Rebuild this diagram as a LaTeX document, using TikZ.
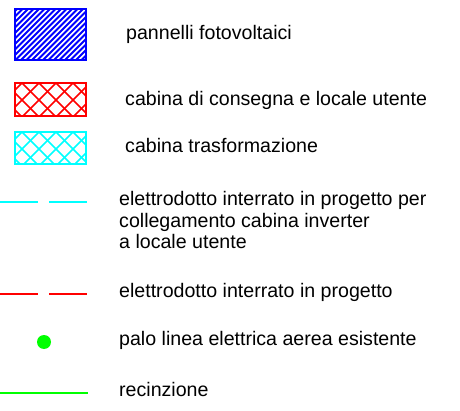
\documentclass[tikz,border=0pt]{standalone}
\usepackage{fontspec}
\setmainfont{Liberation Sans}
\usetikzlibrary{positioning}
\definecolor{pvblue}{RGB}{0,0,255}
\definecolor{cabred}{RGB}{255,0,0}
\definecolor{cabcyan}{RGB}{0,255,255}
\definecolor{fencegreen}{RGB}{0,255,0}
\tikzset{
	legendbox/.style={draw=#1, line width=1.6pt, minimum width=71pt, inner sep=0pt},
	stripes/.style={path picture={
		\foreach \k in {-60,-54.5,...,80}
			\draw[#1, line width=1.8pt] ([xshift=\k pt]path picture bounding box.south west) -- ++(60pt,60pt);
	}},
	diamonds/.style={path picture={
		\foreach \k in {-44,-27,...,130} {
			\draw[#1, line width=1.5pt] ([xshift=\k pt]path picture bounding box.north west) ++(-40pt,40pt) -- ++(80pt,-80pt);
			\draw[#1, line width=1.5pt] ([xshift=\k pt]path picture bounding box.north west) ++(40pt,40pt) -- ++(-80pt,-80pt);
		}
	}},
	cableline/.style={draw=#1, line width=1.3pt, dash pattern=on 38pt off 11pt},
	legendtext/.style={anchor=base west, align=left, inner sep=0pt, font=\fontsize{19.6}{21.5}\selectfont},
}
\begin{document}
\begin{tikzpicture}[x=1pt, y=-1pt]
	\useasboundingbox (0,0) rectangle (460,411);
	% Draw the symbols
	\node [legendbox=pvblue, minimum height=51pt, stripes=pvblue] (pv) at (50.5,34.5) {};
	\node [legendbox=cabred, minimum height=33pt, diamonds=cabred] (consegna) at (50.5,99.5) {};
	\node [legendbox=cabcyan, minimum height=32pt, diamonds=cabcyan] (trasf) at (50.5,148) {};
	% Lines
	\coordinate (cyanA) at (0,202);
	\coordinate (cyanB) at (88,202);
	\coordinate (redA) at (0,294);
	\coordinate (redB) at (88,294);
	\coordinate (fenceA) at (0,393);
	\coordinate (fenceB) at (88,393);
	\node [circle, fill=fencegreen, inner sep=0pt, minimum size=14pt] (palo) at (44,342) {};
	% Draw the labels
	\node [legendtext] (pvtext) at (126,40) {pannelli fotovoltaici};
	\node [legendtext] (consegnatext) at (125,106) {cabina di consegna e locale utente};
	\node [legendtext] (trasftext) at (125,152.5) {cabina trasformazione};
	% base of the last line
	\node [legendtext] (cyantext) at (119,249) {elettrodotto interrato in progetto per\\collegamento cabina inverter\\a locale utente};
	\node [legendtext] (redtext) at (119,298) {elettrodotto interrato in progetto};
	\node [legendtext] (palotext) at (119,345) {palo linea elettrica aerea esistente};
	\node [legendtext] (fencetext) at (119,396.5) {recinzione};
	% Draw the paths
	\draw [cableline=cabcyan] (cyanA) -- (cyanB);
	\draw [cableline=cabred] (redA) -- (redB);
	\draw [draw=fencegreen, line width=1.3pt] (fenceA) -- (fenceB);
\end{tikzpicture}
\end{document}
